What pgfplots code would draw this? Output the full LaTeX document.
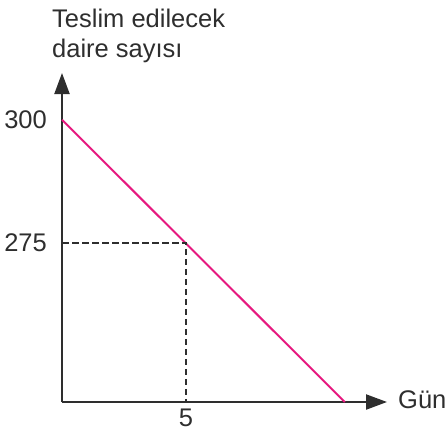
\documentclass[border=0pt]{standalone}
\usepackage{pgfplots}
\pgfplotsset{compat=1.18}
\usetikzlibrary{arrows.meta}
\usepackage{fontspec}
\setmainfont{Liberation Sans}
\definecolor{axisgray}{HTML}{2E2E2E}
\definecolor{linepink}{HTML}{E6197F}
\begin{document}
\begin{tikzpicture}[x=1pt,y=1pt]
\path[use as bounding box] (0,0) rectangle (448,-432);
\begin{axis}[
  at={(62pt,-402pt)}, anchor=south west,
  scale only axis, width=325pt, height=329pt,
  xmin=0, xmax=13.1, ymin=242.7, ymax=309.5,
  axis lines=left,
  axis line style={axisgray, line width=2.2pt, -{Triangle[length=21pt,width=15pt]}},
  clip=false,
  xtick={5}, ytick={275,300},
  major tick length=0pt,
  tick style={draw=none},
  /pgf/number format/assume math mode=true,
  ticklabel style={font=\fontsize{25.5}{30}\selectfont, text=axisgray, inner sep=0pt},
  yticklabel style={xshift=-15pt},
  xticklabel style={yshift=-7pt},
]
\addplot[linepink, line width=2pt] coordinates {(0,300) (11.4,242.7)};
\addplot[axisgray, line width=1.8pt, dash pattern=on 6.5pt off 3.5pt] coordinates {(0,275) (5,275) (5,242.7)};
\end{axis}
\node[anchor=base west, inner sep=0pt, font=\fontsize{25.5}{30}\selectfont, text=axisgray] at (52,-27) {Teslim edilecek};
\node[anchor=base west, inner sep=0pt, font=\fontsize{25.5}{30}\selectfont, text=axisgray] at (52,-57) {daire sayısı};
\node[anchor=west, inner sep=0pt, font=\fontsize{25.5}{30}\selectfont, text=axisgray] at (398,-400) {Gün};
\end{tikzpicture}
\end{document}
